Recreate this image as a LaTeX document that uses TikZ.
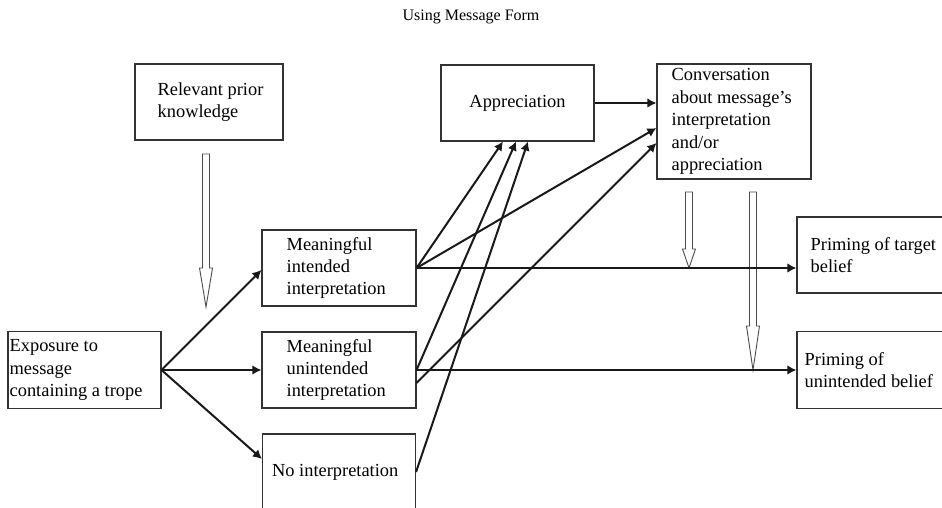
\documentclass[tikz,border=0pt]{standalone}
\usepackage{fontspec}
\setmainfont{Liberation Serif}
\usetikzlibrary{arrows.meta,calc}
\newcommand{\hollowdown}[4]{% x, top, tip, head length
  \draw[hollow] ({#1-3.5},{#2}) -- ({#1+3.5},{#2}) -- ({#1+3.5},{#3-#4}) -- ({#1+6.5},{#3-#4})
    -- ({#1},{#3}) -- ({#1-6.5},{#3-#4}) -- ({#1-3.5},{#3-#4}) -- cycle;}
\begin{document}
\begin{tikzpicture}[x=1pt,y=-1pt,
  box/.style={draw=black!80, line width=1.1pt, inner sep=0pt},
  txt/.style={inner sep=0pt, align=left, font=\fontsize{18.4}{22.4}\selectfont, anchor=west},
  conn/.style={draw=black!90, line width=2pt, -{Latex[length=9pt,width=9.5pt]}},
  hollow/.style={draw=black!70, line width=0.9pt, fill=white, line join=miter}]
\useasboundingbox (0,0) rectangle (942,508);
\clip (0,0) rectangle (942,508);

% title
\node[inner sep=0pt, font=\fontsize{16}{19}\selectfont] (title) at (471,17) {Using Message Form};

% boxes
\node[box, minimum width=148, minimum height=76] (prior) at (209,102) {};
\node[txt] (priorT) at ($(prior.west)+(23,0)$) {Relevant prior\\knowledge};

\node[box, minimum width=153, minimum height=76, font=\fontsize{18.4}{22.4}\selectfont] (apprec) at (517.5,103) {Appreciation};

\node[box, minimum width=154, minimum height=115] (conv) at (734,121.5) {};
\node[txt] (convT) at ($(conv.west)+(15,0)$) {Conversation\\about message’s\\interpretation\\and/or\\appreciation};

\node[box, minimum width=154, minimum height=76] (intended) at (339,268) {};
\node[txt] (intendedT) at ($(intended.west)+(25,0)$) {Meaningful\\intended\\interpretation};

\node[box, minimum width=154, minimum height=76] (unintended) at (339,370) {};
\node[txt] (unintendedT) at ($(unintended.west)+(25,0)$) {Meaningful\\unintended\\interpretation};

\node[box, minimum width=153, minimum height=76] (noint) at (339,472) {};
\node[txt] (nointT) at ($(noint.west)+(10,0)$) {No interpretation};

\node[box, minimum width=153, minimum height=77] (expo) at (84.5,370) {};
\node[txt] (expoT) at ($(expo.west)+(2,0)$) {Exposure to\\message\\containing a trope};

\node[box, minimum width=154, minimum height=76] (target) at (874,255) {};
\node[txt] (targetT) at ($(target.west)+(14,0)$) {Priming of target\\belief};

\node[box, minimum width=154, minimum height=77] (unbel) at (874,370) {};
\node[txt] (unbelT) at ($(unbel.west)+(8,0)$) {Priming of\\unintended belief};

% hollow arrows
\hollowdown{206}{154}{307}{39}
\hollowdown{689}{192}{268}{19}
\hollowdown{753}{192}{370}{44}

% connectors
\draw[conn] (expo.east) -- ($(intended.west)+(0,2)$);
\draw[conn] (expo.east) -- (unintended.west);
\draw[conn] (expo.east) -- ($(noint.west)+(0,-13)$);

\draw[conn] (intended.east) -- ($(target.west)+(0,13)$);
\draw[conn] (unintended.east) -- (unbel.west);

\draw[conn] (intended.east) -- ($(apprec.south)+(-14.5,0)$);
\draw[conn] (unintended.east) -- ($(apprec.south)+(-1.5,0)$);
\draw[conn] (noint.east) -- ($(apprec.south)+(10.5,0)$);

\draw[conn] (intended.east) -- ($(conv.west)+(0,6.5)$);
\draw[conn] ($(unintended.east)+(0,13)$) -- ($(conv.west)+(0,21.5)$);

\draw[conn] (apprec.east) -- ($(conv.west)+(0,-18.5)$);
\end{tikzpicture}
\end{document}
